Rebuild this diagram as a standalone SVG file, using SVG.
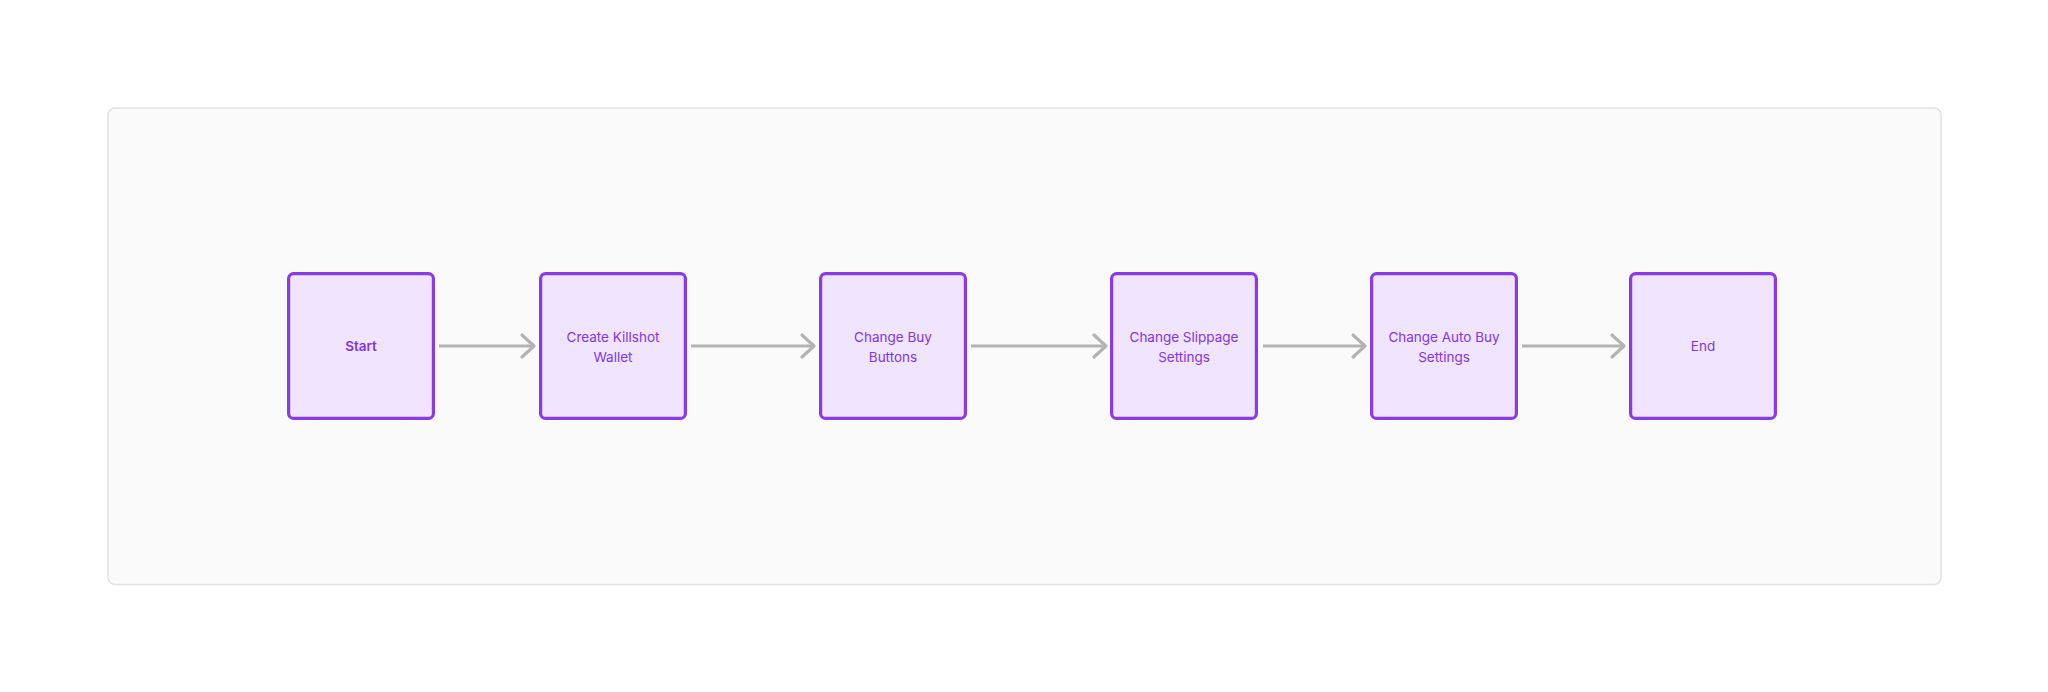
<svg xmlns="http://www.w3.org/2000/svg" width="2048" height="692" viewBox="0 0 2048 692">
<defs>
<style>
.node rect{fill:#f1e4fe;stroke:#8a3be6;stroke-width:3.2}
.node text{font-family:Inter,"Liberation Sans",sans-serif;font-size:13.5px;fill:#7f37e2;text-anchor:middle}
.edge line{stroke:#b3b3b3;stroke-width:3.2}
.edge polyline{fill:none;stroke:#b3b3b3;stroke-width:3.2;stroke-linecap:round;stroke-linejoin:round}
</style>
</defs>
<rect width="2048" height="692" fill="#ffffff"/>
<rect id="container" x="108" y="108" width="1833" height="476.5" rx="7" fill="#fafafa" stroke="#e2e2e2" stroke-width="1.5"/>
<g id="connectors" class="edge">
<line x1="439" y1="346" x2="533" y2="346"/><polyline points="522,335 534,346 522,357"/>
<line x1="691" y1="346" x2="813" y2="346"/><polyline points="802,335 814,346 802,357"/>
<line x1="971" y1="346" x2="1104" y2="346"/><polyline points="1094,335 1106,346 1094,357"/>
<line x1="1263" y1="346" x2="1363" y2="346"/><polyline points="1353,335 1365,346 1353,357"/>
<line x1="1522" y1="346" x2="1622" y2="346"/><polyline points="1612,335 1624,346 1612,357"/>
</g>
<g id="start" class="node"><rect x="288.6" y="273.6" width="144.8" height="144.8" rx="5"/><text x="361" y="351" font-weight="600">Start</text></g>
<g id="create-wallet" class="node"><rect x="540.6" y="273.6" width="144.8" height="144.8" rx="5"/><text x="613" y="341.5">Create Killshot</text><text x="613" y="361.5">Wallet</text></g>
<g id="change-buy-buttons" class="node"><rect x="820.6" y="273.6" width="144.8" height="144.8" rx="5"/><text x="893" y="341.5">Change Buy</text><text x="893" y="361.5">Buttons</text></g>
<g id="change-slippage" class="node"><rect x="1111.6" y="273.6" width="144.8" height="144.8" rx="5"/><text x="1184" y="341.5">Change Slippage</text><text x="1184" y="361.5">Settings</text></g>
<g id="change-auto-buy" class="node"><rect x="1371.6" y="273.6" width="144.8" height="144.8" rx="5"/><text x="1444" y="341.5">Change Auto Buy</text><text x="1444" y="361.5">Settings</text></g>
<g id="end" class="node"><rect x="1630.6" y="273.6" width="144.8" height="144.8" rx="5"/><text x="1703" y="351">End</text></g>
</svg>
